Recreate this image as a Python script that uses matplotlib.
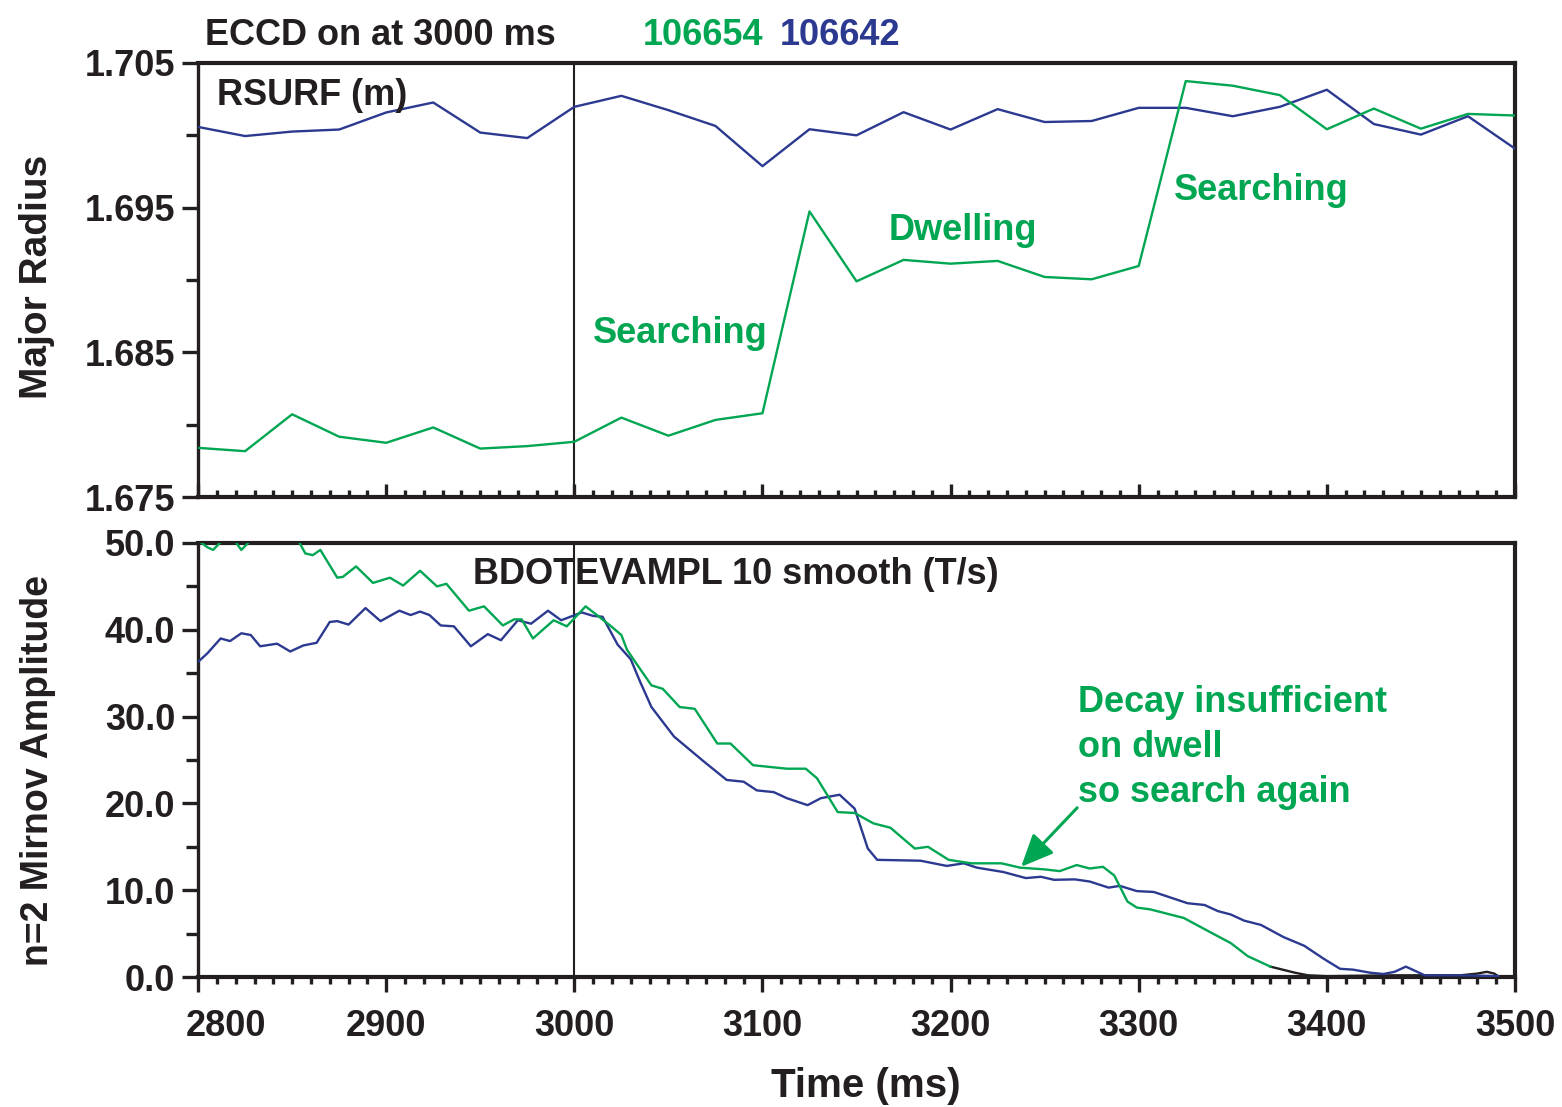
import matplotlib
matplotlib.use("Agg")
import matplotlib.pyplot as plt
from matplotlib.ticker import MultipleLocator, FixedLocator, FormatStrFormatter, FuncFormatter
from matplotlib.transforms import ScaledTranslation

# ---------------------------------------------------------------
# DATA
# ---------------------------------------------------------------
t_rsurf = [2800, 2825, 2850, 2875, 2900, 2925, 2950, 2975, 3000, 3025,
           3050, 3075, 3100, 3125, 3150, 3175, 3200, 3225, 3250, 3275,
           3300, 3325, 3350, 3375, 3400, 3425, 3450, 3475, 3500]
rsurf_642 = [1.70058, 1.69995, 1.70026, 1.70040, 1.70158, 1.70227, 1.70019, 1.69981, 1.70197, 1.70273,
             1.70174, 1.70065, 1.69787, 1.70042, 1.70000, 1.70160, 1.70040, 1.70181, 1.70092, 1.70099,
             1.70190, 1.70190, 1.70132, 1.70197, 1.70315, 1.70078, 1.70005, 1.70132, 1.69908]
rsurf_654 = [1.67840, 1.67817, 1.68072, 1.67917, 1.67875, 1.67981, 1.67835, 1.67852, 1.67882, 1.68049,
             1.67924, 1.68033, 1.68079, 1.69474, 1.68991, 1.69139, 1.69113, 1.69132, 1.69021, 1.69005,
             1.69097, 1.70375, 1.70343, 1.70278, 1.70042, 1.70185, 1.70046, 1.70148, 1.70137]

t_mir_654 = [2800, 2805, 2808, 2812, 2816, 2820, 2823, 2827, 2835, 2845, 2854, 2857, 2861, 2865,
             2874, 2877, 2884, 2893, 2902, 2909, 2918, 2927, 2932, 2944, 2952, 2962, 2968, 2972,
             2978, 2989, 2996, 3006, 3012, 3019, 3025, 3028, 3033, 3041, 3047, 3056, 3064, 3076,
             3083, 3095, 3113, 3123, 3129, 3140, 3149, 3159, 3168, 3181, 3188, 3199, 3211, 3227,
             3237, 3250, 3258, 3267, 3274, 3281, 3287, 3294, 3299, 3306, 3324, 3336, 3349, 3358, 3370]
mir_654 = [50.3, 49.5, 49.2, 50.1, 51.0, 50.1, 49.2, 50.1, 52.0, 51.5, 50.0, 48.8, 48.6, 49.2,
           46.0, 46.1, 47.3, 45.4, 46.0, 45.1, 46.8, 45.0, 45.3, 42.2, 42.7, 40.5, 41.2, 41.2,
           39.0, 41.1, 40.4, 42.7, 41.7, 40.5, 39.4, 37.7, 36.1, 33.6, 33.2, 31.1, 30.9, 26.9,
           26.9, 24.4, 24.0, 24.0, 22.9, 19.0, 18.9, 17.7, 17.2, 14.8, 15.0, 13.5, 13.1, 13.1,
           12.6, 12.4, 12.2, 12.9, 12.5, 12.7, 11.7, 8.7, 8.0, 7.8, 6.8, 5.4, 3.9, 2.4, 1.2]

t_mir_642 = [2800, 2805, 2812, 2817, 2823, 2828, 2833, 2842, 2849, 2856, 2863, 2870, 2874, 2880,
             2889, 2897, 2907, 2913, 2918, 2923, 2929, 2936, 2945, 2954, 2961, 2970, 2977, 2986,
             2993, 3004, 3010, 3015, 3023, 3030, 3035, 3041, 3053, 3069, 3081, 3090, 3097, 3106,
             3113, 3124, 3131, 3141, 3149, 3156, 3161, 3184, 3198, 3207, 3214, 3228, 3240, 3248,
             3255, 3266, 3274, 3284, 3290, 3299, 3308, 3326, 3335, 3342, 3349, 3356, 3365, 3377,
             3388, 3398, 3407, 3414, 3423, 3430, 3436, 3442, 3452, 3471, 3491]
mir_642 = [36.3, 37.3, 39.0, 38.7, 39.6, 39.4, 38.1, 38.4, 37.5, 38.2, 38.5, 40.9, 41.0, 40.6,
           42.5, 41.0, 42.2, 41.7, 42.1, 41.7, 40.5, 40.4, 38.1, 39.5, 38.8, 41.1, 40.7, 42.2,
           41.1, 42.0, 41.6, 41.5, 38.3, 36.6, 34.0, 31.1, 27.7, 24.8, 22.7, 22.5, 21.5, 21.3,
           20.6, 19.8, 20.6, 21.0, 19.4, 14.8, 13.5, 13.4, 12.8, 13.1, 12.6, 12.1, 11.4, 11.55,
           11.2, 11.25, 11.0, 10.3, 10.5, 9.9, 9.8, 8.5, 8.3, 7.6, 7.2, 6.5, 6.0, 4.6,
           3.6, 2.15, 0.95, 0.85, 0.5, 0.35, 0.6, 1.2, 0.2, 0.2, 0.1]

# black trace near zero at the end
t_mir_blk = [3370, 3383, 3390, 3400, 3418, 3436, 3453, 3471, 3480, 3485, 3489, 3491]
mir_blk = [1.2, 0.5, 0.2, 0.1, 0.15, 0.2, 0.2, 0.2, 0.4, 0.6, 0.4, 0.1]

rsurf_major = [1.675, 1.685, 1.695, 1.705]
rsurf_minor = [1.680, 1.690, 1.700]
T_MIN, T_MAX = 2800, 3500
ECCD_ON = 3000

# ---------------------------------------------------------------
# STYLE
# ---------------------------------------------------------------
GREEN, BLUE, INK = "#00A651", "#2B3990", "#231F20"
plt.rcParams["font.family"] = ["Liberation Sans", "DejaVu Sans"]
plt.rcParams["font.weight"] = "bold"
plt.rcParams["text.color"] = INK

W, H = 1562, 1107
FS = 26


def px(x, y):
    """pixel (top-left origin) -> figure fraction"""
    return x / W, 1 - y / H


def _style(ax):
    for s in ax.spines.values():
        s.set_linewidth(3.0)
        s.set_color(INK)
    ax.spines["left"].set_linewidth(2.4)
    ax.set_xlim(T_MIN, T_MAX)
    ax.xaxis.set_major_locator(MultipleLocator(100))
    ax.xaxis.set_minor_locator(MultipleLocator(10))
    ax.tick_params(axis="y", which="both", direction="out", left=True, right=False,
                   width=2.4, color=INK, labelsize=FS, labelcolor=INK, pad=5)
    ax.tick_params(axis="y", which="major", length=11.5)
    ax.tick_params(axis="y", which="minor", length=9)


fig = plt.figure(figsize=(W / 100, H / 100), dpi=100)
fig.patch.set_facecolor("white")

# ---------------------------------------------------------------
# Top panel — RSURF
# ---------------------------------------------------------------
ax1 = fig.add_axes([0.1268, 0.5510, 0.8431, 0.3921])
_style(ax1)
ax1.plot(t_rsurf, rsurf_642, color=BLUE, lw=1.7, zorder=3)
ax1.plot(t_rsurf, rsurf_654, color=GREEN, lw=1.7, zorder=3)
ax1.axvline(ECCD_ON, color=INK, lw=1.5, zorder=2)
ax1.set_ylim(1.675, 1.705)
ax1.yaxis.set_major_locator(FixedLocator(rsurf_major))
ax1.yaxis.set_minor_locator(FixedLocator(rsurf_minor))
ax1.yaxis.set_major_formatter(FormatStrFormatter("%.3f"))
ax1.tick_params(axis="x", which="both", direction="in", bottom=True, top=False,
                labelbottom=False, width=2.4, color=INK)
ax1.tick_params(axis="x", which="major", length=9.5)
ax1.tick_params(axis="x", which="minor", length=5)

# ---------------------------------------------------------------
# Bottom panel — Mirnov amplitude
# ---------------------------------------------------------------
ax2 = fig.add_axes([0.1268, 0.1174, 0.8431, 0.3921])
_style(ax2)
ax2.plot(t_mir_642, mir_642, color=BLUE, lw=1.7, zorder=3)
ax2.plot(t_mir_654, mir_654, color=GREEN, lw=1.7, zorder=3)
ax2.plot(t_mir_blk, mir_blk, color=INK, lw=1.7, zorder=2)
ax2.axvline(ECCD_ON, color=INK, lw=1.5, zorder=2)
ax2.set_ylim(0, 50)
ax2.yaxis.set_major_locator(MultipleLocator(10))
ax2.yaxis.set_minor_locator(MultipleLocator(5))
ax2.yaxis.set_major_formatter(FormatStrFormatter("%.1f"))
# first time label is drawn separately, shifted right of its tick
ax2.xaxis.set_major_formatter(FuncFormatter(lambda v, p: "" if v <= T_MIN else f"{v:.0f}"))
ax2.tick_params(axis="x", which="both", direction="out", bottom=True, top=False,
                width=2.4, color=INK, labelsize=FS, labelcolor=INK, pad=12)
ax2.tick_params(axis="x", which="major", length=11)
ax2.tick_params(axis="x", which="minor", length=5)
ax2.text(T_MIN, 0, f"{T_MIN}", fontsize=FS, fontweight="bold", color=INK,
         ha="center", va="top", clip_on=False,
         transform=ax2.transData + ScaledTranslation(0.28, -23 / 72, fig.dpi_scale_trans))

ax2.annotate("", xy=(3237.5, 12.7), xytext=(3267.3, 19.5),
             arrowprops=dict(arrowstyle="-|>,head_length=0.9,head_width=0.4",
                             mutation_scale=22, color=GREEN, lw=2.2,
                             shrinkA=0, shrinkB=0))

# ---------------------------------------------------------------
# Texts (pixel positions, baseline anchored)
# ---------------------------------------------------------------
def label(x, y, s, color=INK, size=FS, **kw):
    fx, fy = px(x, y)
    fig.text(fx, fy, s, color=color, fontsize=size, fontweight="bold",
             ha=kw.pop("ha", "left"), va=kw.pop("va", "baseline"), **kw)


label(205, 45, "ECCD on at 3000 ms")
label(643, 45, "106654", color=GREEN)
label(780, 45, "106642", color=BLUE)
label(217, 105, "RSURF (m)")
label(593, 343, "Searching", color=GREEN)
label(889, 240, "Dwelling", color=GREEN)
label(1174, 200, "Searching", color=GREEN)
label(473, 584, "BDOTEVAMPL 10 smooth (T/s)")
label(1078, 712, "Decay insufficient", color=GREEN)
label(1078, 757, "on dwell", color=GREEN)
label(1078, 802, "so search again", color=GREEN)
label(866, 1097, "Time (ms)", size=29, ha="center")
label(37, 277, "Major Radius", size=28, ha="center", va="center", rotation=90)
label(38, 770, "n=2 Mirnov Amplitude", size=27, ha="center", va="center", rotation=90)

# ---------------------------------------------------------------
# EXPORT
# ---------------------------------------------------------------
fig.savefig("out.png", dpi=100, facecolor="white")
